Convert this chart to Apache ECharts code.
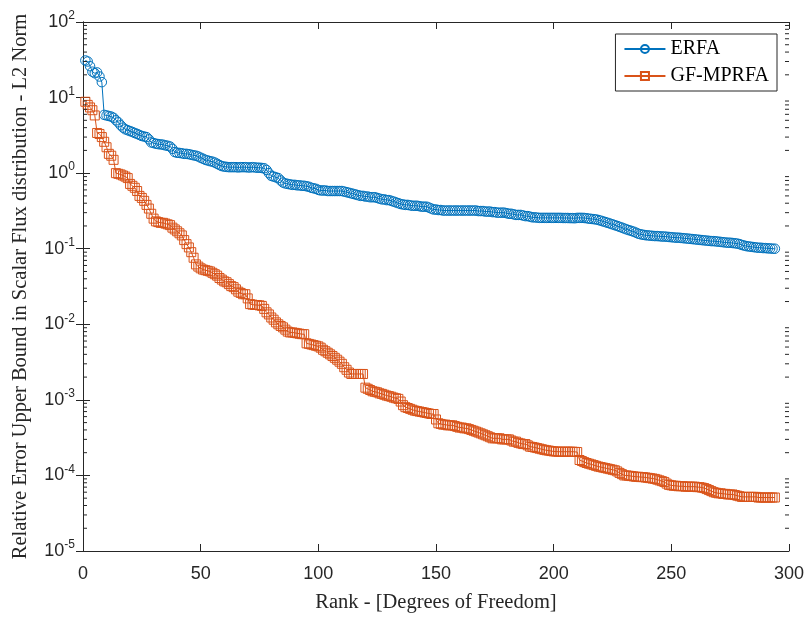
<!DOCTYPE html>
<html>
<head>
<meta charset="utf-8">
<script src="https://cdn.jsdelivr.net/npm/echarts@6/dist/echarts.min.js"></script>
<style>
html,body{margin:0;padding:0;background:#fff;}
#chart{width:809px;height:618px;}
</style>
</head>
<body>
<div id="chart"></div>
<script>
// Rank (degrees of freedom), 1..294
const ranks = [];
for (let i = 1; i <= 294; i++) ranks.push(i);

const erfa = [
31, 30, 26, 22, 21, 21.5, 19, 16, 5.9, 5.8,
5.7, 5.6, 5.4, 5.0, 4.7, 4.3, 4.0, 3.8, 3.7, 3.6,
3.5, 3.4, 3.3, 3.2, 3.1, 3.05, 3.0, 2.8, 2.55, 2.5,
2.45, 2.42, 2.4, 2.38, 2.33, 2.3, 2.25, 2.1, 1.9, 1.86,
1.85, 1.83, 1.8, 1.8, 1.78, 1.75, 1.72, 1.7, 1.66, 1.6,
1.55, 1.5, 1.47, 1.44, 1.42, 1.38, 1.33, 1.28, 1.24, 1.22,
1.21, 1.2, 1.2, 1.2, 1.2, 1.19, 1.2, 1.2, 1.2, 1.19,
1.19, 1.2, 1.19, 1.18, 1.18, 1.17, 1.16, 1.1, 1.0, 0.92,
0.9, 0.88, 0.86, 0.8, 0.75, 0.73, 0.72, 0.71, 0.7, 0.7,
0.69, 0.69, 0.68, 0.68, 0.67, 0.66, 0.64, 0.63, 0.62, 0.6,
0.59, 0.59, 0.59, 0.58, 0.58, 0.58, 0.58, 0.58, 0.58, 0.58,
0.57, 0.56, 0.55, 0.54, 0.53, 0.52, 0.51, 0.5, 0.5, 0.49,
0.49, 0.48, 0.48, 0.48, 0.47, 0.46, 0.45, 0.45, 0.44, 0.44,
0.43, 0.42, 0.41, 0.4, 0.39, 0.385, 0.38, 0.38, 0.375, 0.37,
0.37, 0.37, 0.365, 0.36, 0.36, 0.36, 0.35, 0.34, 0.33, 0.33,
0.325, 0.325, 0.32, 0.32, 0.32, 0.32, 0.32, 0.32, 0.32, 0.32,
0.32, 0.32, 0.32, 0.32, 0.32, 0.32, 0.32, 0.315, 0.315, 0.315,
0.31, 0.31, 0.31, 0.305, 0.305, 0.3, 0.3, 0.3, 0.3, 0.295,
0.29, 0.29, 0.285, 0.28, 0.28, 0.28, 0.275, 0.27, 0.27, 0.265,
0.26, 0.26, 0.258, 0.256, 0.256, 0.256, 0.256, 0.256, 0.256, 0.256,
0.256, 0.256, 0.256, 0.255, 0.255, 0.255, 0.254, 0.254, 0.253, 0.256,
0.256, 0.256, 0.255, 0.253, 0.25, 0.248, 0.246, 0.244, 0.24, 0.235,
0.23, 0.225, 0.22, 0.215, 0.21, 0.205, 0.2, 0.195, 0.19, 0.185,
0.18, 0.176, 0.172, 0.168, 0.163, 0.158, 0.155, 0.153, 0.151, 0.15,
0.149, 0.148, 0.147, 0.147, 0.146, 0.145, 0.145, 0.144, 0.143, 0.142,
0.141, 0.14, 0.14, 0.139, 0.138, 0.137, 0.136, 0.135, 0.134, 0.133,
0.132, 0.131, 0.13, 0.129, 0.128, 0.127, 0.126, 0.126, 0.125, 0.124,
0.123, 0.122, 0.121, 0.12, 0.12, 0.119, 0.118, 0.117, 0.115, 0.112,
0.11, 0.108, 0.107, 0.106, 0.105, 0.104, 0.103, 0.103, 0.102, 0.102,
0.101, 0.101, 0.1, 0.1
];

const gfmprfa = [
8.8, 8.0, 7.4, 6.8, 5.8, 3.4, 3.3, 3.0, 2.6, 2.2,
1.8, 1.7, 1.5, 1.0, 0.98, 0.96, 0.93, 0.9, 0.86, 0.72,
0.68, 0.64, 0.58, 0.5, 0.47, 0.43, 0.38, 0.34, 0.29, 0.25,
0.23, 0.225, 0.22, 0.22, 0.215, 0.21, 0.205, 0.19, 0.18, 0.17,
0.16, 0.15, 0.13, 0.115, 0.104, 0.09, 0.076, 0.062, 0.058, 0.055,
0.053, 0.052, 0.051, 0.05, 0.048, 0.046, 0.044, 0.041, 0.039, 0.037,
0.036, 0.034, 0.032, 0.031, 0.029, 0.027, 0.026, 0.025, 0.025, 0.022,
0.0185, 0.0182, 0.018, 0.018, 0.0178, 0.0175, 0.016, 0.0144, 0.0135, 0.0123,
0.0115, 0.0106, 0.0100, 0.0095, 0.0091, 0.0085, 0.008, 0.0078, 0.0078, 0.0077,
0.0076, 0.0075, 0.0074, 0.0074, 0.0056, 0.0055, 0.0054, 0.0053, 0.0052, 0.0051,
0.0049, 0.0046, 0.0044, 0.0042, 0.004, 0.0038, 0.0036, 0.0034, 0.0032, 0.003,
0.0027, 0.0025, 0.0023, 0.0022, 0.0022, 0.0022, 0.0022, 0.0022, 0.0022, 0.00145,
0.0014, 0.00135, 0.0013, 0.00128, 0.00126, 0.00122, 0.0012, 0.00117, 0.00114, 0.00112,
0.0011, 0.00107, 0.00105, 0.00103, 0.00095, 0.00085, 0.0008, 0.00078, 0.00076, 0.00074,
0.00072, 0.00071, 0.0007, 0.00069, 0.00068, 0.00067, 0.00066, 0.00065, 0.00065, 0.00055,
0.00049, 0.00048, 0.00047, 0.00047, 0.00046, 0.00046, 0.00046, 0.00045, 0.00044, 0.00043,
0.00043, 0.00042, 0.00042, 0.00041, 0.0004, 0.00039, 0.00038, 0.00037, 0.00036, 0.00035,
0.00034, 0.00033, 0.00032, 0.00031, 0.00031, 0.00031, 0.00031, 0.0003, 0.0003, 0.0003,
0.0003, 0.00029, 0.00028, 0.00028, 0.00027, 0.000265, 0.00026, 0.00026, 0.00025, 0.00024,
0.000238, 0.000234, 0.00023, 0.000226, 0.000222, 0.000218, 0.000215, 0.000213, 0.00021, 0.000208,
0.000207, 0.000206, 0.000206, 0.000206, 0.000206, 0.000206, 0.000206, 0.000206, 0.000205, 0.000204,
0.00016, 0.000155, 0.00015, 0.000146, 0.000143, 0.00014, 0.000137, 0.000134, 0.000131, 0.000129,
0.000127, 0.000125, 0.000123, 0.000121, 0.000119, 0.000117, 0.000113, 0.000108, 0.000104, 0.0001,
0.0001, 0.000099, 0.000098, 0.000097, 0.000096, 0.000096, 0.000095, 0.000095, 0.000094, 0.000093,
0.000092, 0.000091, 0.00009, 0.000088, 0.000086, 0.000084, 0.000082, 0.000078, 0.000075, 0.000074,
0.000073, 0.000073, 0.000072, 0.000072, 0.000072, 0.000071, 0.000071, 0.000071, 0.000071, 0.000071,
0.00007, 0.00007, 0.000069, 0.000068, 0.000066, 0.000064, 0.000062, 0.00006, 0.000059, 0.000058,
0.000058, 0.000057, 0.000057, 0.000056, 0.000056, 0.000056, 0.000055, 0.000054, 0.000053, 0.000052,
0.000052, 0.000052, 0.000052, 0.000052, 0.000052, 0.000052, 0.000051, 0.000051, 0.000051, 0.000051,
0.000051, 0.000051, 0.000051, 0.000051
];

const xTicks = [0, 50, 100, 150, 200, 250, 300];
const yMin = 1e-5, yMax = 100;
const seriesNames = ['ERFA', 'GF-MPRFA'];

// minor log ticks (2..9 x 10^k)
const minorTicks = [];
for (let k = -5; k < 2; k++) for (let d = 2; d <= 9; d++) minorTicks.push(d * Math.pow(10, k));

const AX = '#262626';
const SANS = '"Liberation Sans", Arial, sans-serif';
const SERIF = '"Liberation Serif", "Times New Roman", serif';

const chart = echarts.init(document.getElementById('chart'), null, {renderer: 'canvas'});

const baseX = {
  type: 'value', min: xTicks[0], max: xTicks[xTicks.length - 1], interval: 50,
  splitLine: {show: false},
  axisLine: {show: true, lineStyle: {color: AX, width: 1}},
  axisTick: {show: true, inside: true, length: 7, lineStyle: {color: AX, width: 1}}
};
const baseY = {
  type: 'log', logBase: 10, min: yMin, max: yMax, splitNumber: 7,
  splitLine: {show: false},
  axisLine: {show: true, lineStyle: {color: AX, width: 1}},
  axisTick: {show: true, inside: true, length: 7, lineStyle: {color: AX, width: 1}}
};

const option = {
  animation: false,
  backgroundColor: '#fff',
  grid: {left: 83, right: 20, top: 22, bottom: 65, containLabel: false},
  xAxis: [
    Object.assign({}, baseX, {
      position: 'bottom',
      axisLabel: {show: true, color: AX, fontFamily: SANS, fontSize: 18, margin: 14},
      name: 'Rank - [Degrees of Freedom]', nameLocation: 'middle', nameGap: 41,
      nameTextStyle: {color: AX, fontFamily: SERIF, fontSize: 20.5}
    }),
    Object.assign({}, baseX, {position: 'top', axisLabel: {show: false}})
  ],
  yAxis: [
    Object.assign({}, baseY, {
      position: 'left',
      axisLabel: {
        show: true, color: AX, fontFamily: SANS, fontSize: 18, margin: 8,
        formatter: function (v) {
          const e = Math.round(Math.log10(v));
          return '10{sup|' + e + '}';
        },
        rich: {sup: {fontFamily: SANS, fontSize: 12, color: AX, padding: [0, 0, 12, 0]}}
      },
      name: 'Relative Error Upper Bound in Scalar Flux distribution - L2 Norm',
      nameLocation: 'middle', nameGap: 52, nameRotate: 90,
      nameTextStyle: {color: AX, fontFamily: SERIF, fontSize: 20.5}
    }),
    Object.assign({}, baseY, {position: 'right', axisLabel: {show: false}})
  ],
  legend: {
    data: seriesNames,
    orient: 'vertical',
    right: 32, top: 34,
    backgroundColor: '#fff',
    borderColor: AX, borderWidth: 1, borderRadius: 0,
    padding: [5, 8, 5, 8],
    itemWidth: 41, itemHeight: 10, itemGap: 7,
    textStyle: {color: '#000', fontFamily: SERIF, fontSize: 20}
  },
  series: [
    {
      name: seriesNames[0], type: 'line',
      data: ranks.map((r, i) => [r, erfa[i]]),
      symbol: 'circle', symbolSize: 9.5, showAllSymbol: true,
      lineStyle: {color: '#0072BD', width: 1},
      itemStyle: {color: 'rgba(255,255,255,0)', borderColor: '#0072BD', borderWidth: 1},
      xAxisIndex: 0, yAxisIndex: 0, z: 3
    },
    {
      name: seriesNames[1], type: 'line',
      data: ranks.map((r, i) => [r, gfmprfa[i]]),
      symbol: 'rect', symbolSize: 9, showAllSymbol: true,
      lineStyle: {color: '#D95319', width: 1},
      itemStyle: {color: 'rgba(255,255,255,0)', borderColor: '#D95319', borderWidth: 1},
      xAxisIndex: 0, yAxisIndex: 0, z: 3
    },
    {
      name: 'minorTicks', type: 'custom',
      xAxisIndex: 0, yAxisIndex: 0, silent: true, clip: false, z: 5,
      data: minorTicks.map(v => [0, v]),
      encode: {x: 0, y: 1},
      renderItem: function (params, api) {
        const cs = params.coordSys;
        const y = api.coord([0, api.value(1)])[1];
        const st = {stroke: AX, lineWidth: 1};
        return {
          type: 'group',
          children: [
            {type: 'line', shape: {x1: cs.x, y1: y, x2: cs.x + 4, y2: y}, style: st},
            {type: 'line', shape: {x1: cs.x + cs.width - 4, y1: y, x2: cs.x + cs.width, y2: y}, style: st}
          ]
        };
      }
    }
  ]
};
chart.setOption(option);
</script>
</body>
</html>
